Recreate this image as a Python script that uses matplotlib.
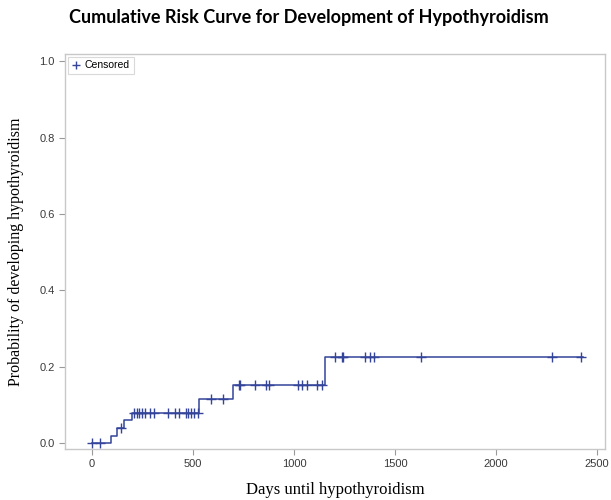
import numpy as np
import matplotlib
matplotlib.use('Agg')
import matplotlib.pyplot as plt
from matplotlib.lines import Line2D

# event times (days) and cumulative risk right after each event
event_days = [0, 95, 125, 160, 196, 530, 697, 1152]
cum_risk = [0.0, 0.019, 0.039, 0.061, 0.080, 0.115, 0.152, 0.227]
last_day = 2430

# censored observations (days)
censored_days = [0, 40, 144, 209, 221, 232, 246, 262, 287, 308, 378, 411, 431,
                 464, 477, 490, 506, 523, 589, 650, 729, 733, 807, 861, 878,
                 1021, 1038, 1063, 1115, 1137, 1203, 1236, 1244, 1351, 1376,
                 1396, 1627, 2276, 2424]

line_col = '#33449a'
grey = '#9a9a9a'

fig = plt.figure(figsize=(6.11, 5.0), dpi=100)
ax = fig.add_axes([0.1064, 0.102, 0.8836, 0.790])

# step curve
xs = event_days + [last_day]
ys = cum_risk + [cum_risk[-1]]
ax.step(xs, ys, where='post', color=line_col, lw=1.1)

# censor marks sit on the curve
idx = np.searchsorted(event_days, censored_days, side='right') - 1
cens_y = np.array(cum_risk)[idx]
ax.plot(censored_days, cens_y, ls='none', marker='+', ms=7, mew=1.0,
        color=line_col)

ax.set_xlim(-134, 2540)
ax.set_ylim(-0.015, 1.019)
ax.set_xticks(np.arange(0, 2501, 500))
ax.set_yticks(np.arange(0, 1.01, 0.2))
ax.set_yticklabels(['%.1f' % v for v in np.arange(0, 1.01, 0.2)])

for s in ax.spines.values():
    s.set_color('#c8c8c8')
    s.set_linewidth(1.0)
ax.tick_params(colors=grey, labelcolor='#3a3a3a', labelsize=8,
               length=4, width=0.8)
for lab in ax.get_xticklabels() + ax.get_yticklabels():
    lab.set_family('Liberation Sans')

ax.set_xlabel('Days until hypothyroidism', family='Liberation Serif',
              fontsize=12, labelpad=9)
ax.set_ylabel('Probability of developing hypothyroidism',
              family='Liberation Serif', fontsize=11.5, labelpad=11)

handle = Line2D([], [], ls='none', marker='+', ms=6, mew=1.0, color=line_col)
leg = ax.legend([handle], ['Censored'], loc='upper left', frameon=True,
                fancybox=False, handletextpad=0.3, borderpad=0.35,
                handlelength=1.0, borderaxespad=0.25,
                prop={'family': 'Liberation Sans', 'size': 7.5})
leg.get_frame().set_edgecolor('#d0d0d0')
leg.get_frame().set_linewidth(0.8)

fig.text(0.505, 0.965, 'Cumulative Risk Curve for Development of Hypothyroidism',
         ha='center', va='center', fontsize=13, fontweight='bold',
         family='Lato')

fig.savefig('out.png', dpi=100)
